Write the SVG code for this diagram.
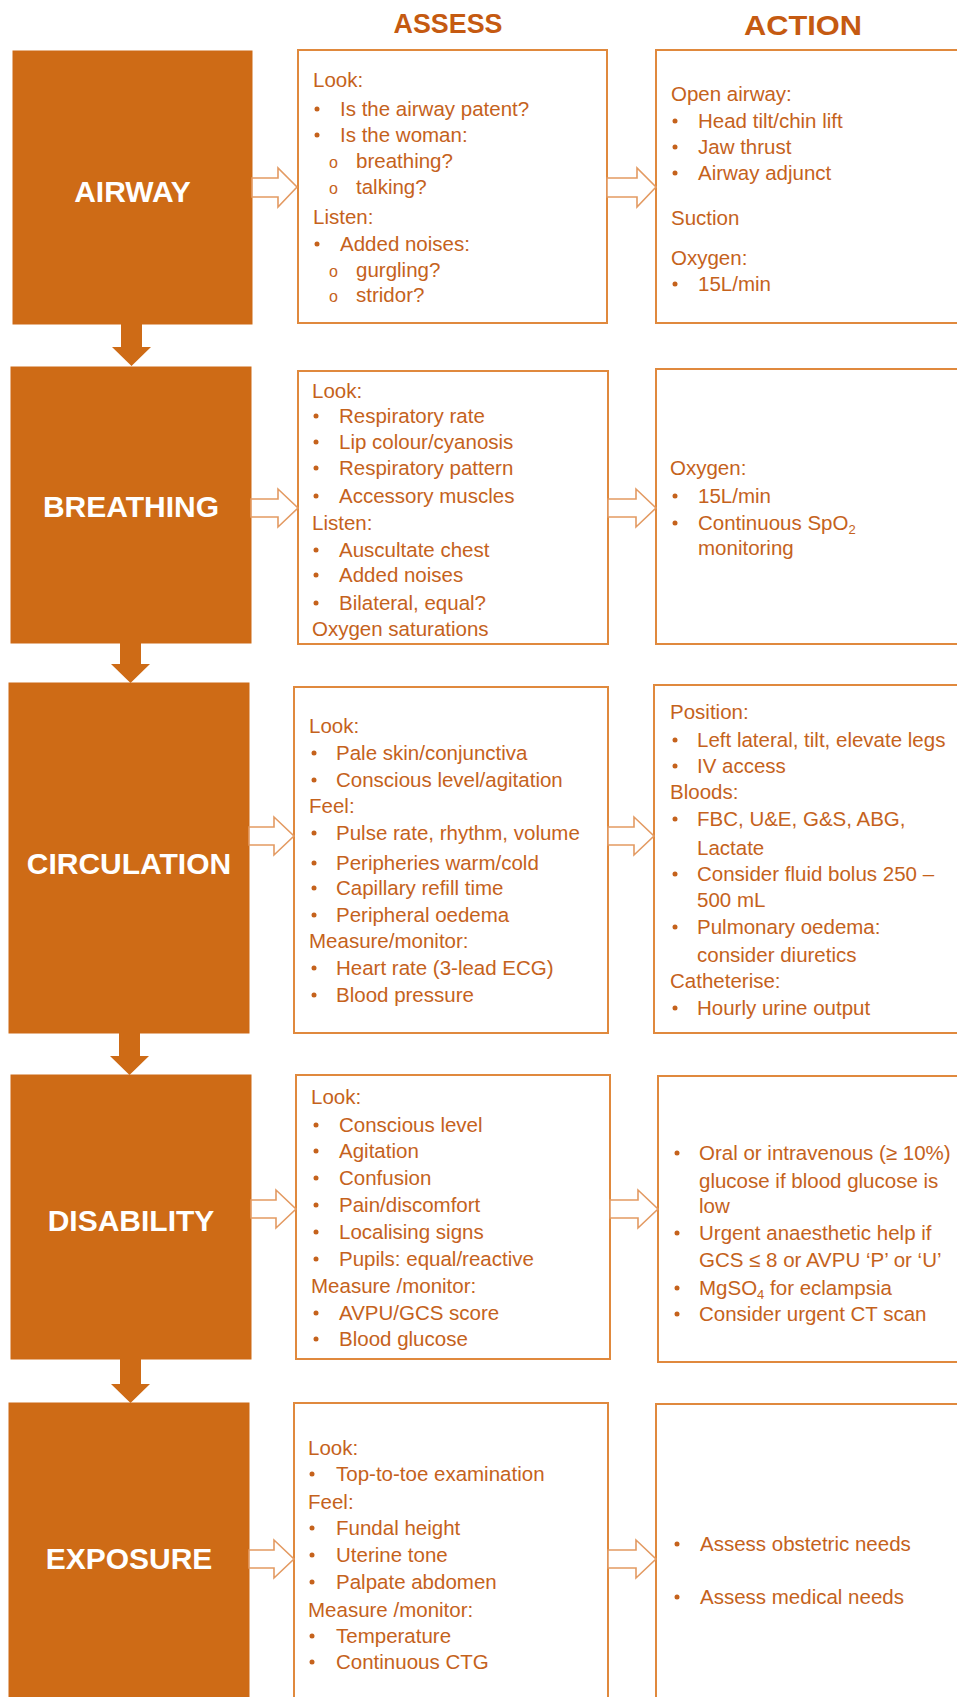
<svg xmlns="http://www.w3.org/2000/svg" width="957" height="1697" viewBox="0 0 957 1697">
<style>
.stage{fill:#CE6B16;stroke:#CE6B16;stroke-width:1}
.box{fill:#ffffff;stroke:#E0893D;stroke-width:2}
.title{font-family:"Liberation Sans",Arial,sans-serif;font-weight:bold;font-size:30px;fill:#ffffff;text-anchor:middle}
.head{font-family:"Liberation Sans",Arial,sans-serif;font-weight:bold;font-size:28px;fill:#C55A11;text-anchor:middle}
.t{font-family:"Liberation Sans",Arial,sans-serif;font-size:20.5px;fill:#C5621C}
.o{font-family:"Liberation Sans",Arial,sans-serif;font-size:16px;fill:#C5621C}
.b{fill:#C5621C}
.harrow{fill:#ffffff;stroke:#E39A62;stroke-width:1.6;stroke-linejoin:miter}
.varrow{fill:#CE6B16}
</style>

<text class="head" x="448" y="33" textLength="109" lengthAdjust="spacingAndGlyphs">ASSESS</text>
<text class="head" x="803" y="35" textLength="118" lengthAdjust="spacingAndGlyphs">ACTION</text>

<!-- Row 1 -->
<g id="airway">
<rect class="stage" x="13" y="51" width="239" height="273"/>
<text class="title" x="132.5" y="202">AIRWAY</text>
</g>
<g id="airway-assess">
<rect class="box" x="298" y="50" width="309" height="273"/>
<text class="t" x="313" y="87">Look:</text>
<circle class="b" cx="317" cy="109" r="2.5"/><text class="t" x="340" y="116">Is the airway patent?</text>
<circle class="b" cx="317" cy="135" r="2.5"/><text class="t" x="340" y="142">Is the woman:</text>
<text class="o" x="329" y="168">o</text><text class="t" x="356" y="168">breathing?</text>
<text class="o" x="329" y="194">o</text><text class="t" x="356" y="194">talking?</text>
<text class="t" x="313" y="224">Listen:</text>
<circle class="b" cx="317" cy="244" r="2.5"/><text class="t" x="340" y="251">Added noises:</text>
<text class="o" x="329" y="277">o</text><text class="t" x="356" y="277">gurgling?</text>
<text class="o" x="329" y="302">o</text><text class="t" x="356" y="302">stridor?</text>
</g>
<g id="airway-action">
<rect class="box" x="656" y="50" width="320" height="273"/>
<text class="t" x="671" y="101">Open airway:</text>
<circle class="b" cx="675" cy="121" r="2.5"/><text class="t" x="698" y="128">Head tilt/chin lift</text>
<circle class="b" cx="675" cy="147" r="2.5"/><text class="t" x="698" y="154">Jaw thrust</text>
<circle class="b" cx="675" cy="173" r="2.5"/><text class="t" x="698" y="180">Airway adjunct</text>
<text class="t" x="671" y="225">Suction</text>
<text class="t" x="671" y="265">Oxygen:</text>
<circle class="b" cx="675" cy="284" r="2.5"/><text class="t" x="698" y="291">15L/min</text>
</g>

<!-- Row 2 -->
<g id="breathing">
<rect class="stage" x="11" y="367" width="240" height="276"/>
<text class="title" x="131" y="517">BREATHING</text>
</g>
<g id="breathing-assess">
<rect class="box" x="298" y="371" width="310" height="273"/>
<text class="t" x="312" y="398">Look:</text>
<circle class="b" cx="316" cy="416" r="2.5"/><text class="t" x="339" y="423">Respiratory rate</text>
<circle class="b" cx="316" cy="442" r="2.5"/><text class="t" x="339" y="449">Lip colour/cyanosis</text>
<circle class="b" cx="316" cy="468" r="2.5"/><text class="t" x="339" y="475">Respiratory pattern</text>
<circle class="b" cx="316" cy="496" r="2.5"/><text class="t" x="339" y="503">Accessory muscles</text>
<text class="t" x="312" y="530">Listen:</text>
<circle class="b" cx="316" cy="550" r="2.5"/><text class="t" x="339" y="557">Auscultate chest</text>
<circle class="b" cx="316" cy="575" r="2.5"/><text class="t" x="339" y="582">Added noises</text>
<circle class="b" cx="316" cy="603" r="2.5"/><text class="t" x="339" y="610">Bilateral, equal?</text>
<text class="t" x="312" y="636">Oxygen saturations</text>
</g>
<g id="breathing-action">
<rect class="box" x="656" y="369" width="320" height="275"/>
<text class="t" x="670" y="475">Oxygen:</text>
<circle class="b" cx="675" cy="496" r="2.5"/><text class="t" x="698" y="503">15L/min</text>
<circle class="b" cx="675" cy="523" r="2.5"/><text class="t" x="698" y="530">Continuous SpO<tspan font-size="13" dy="4">2</tspan></text>
<text class="t" x="698" y="555">monitoring</text>
</g>

<!-- Row 3 -->
<g id="circulation">
<rect class="stage" x="9" y="683" width="240" height="350"/>
<text class="title" x="129" y="874">CIRCULATION</text>
</g>
<g id="circulation-assess">
<rect class="box" x="294" y="687" width="314" height="346"/>
<text class="t" x="309" y="733">Look:</text>
<circle class="b" cx="314" cy="753" r="2.5"/><text class="t" x="336" y="760">Pale skin/conjunctiva</text>
<circle class="b" cx="314" cy="780" r="2.5"/><text class="t" x="336" y="787">Conscious level/agitation</text>
<text class="t" x="309" y="813">Feel:</text>
<circle class="b" cx="314" cy="833" r="2.5"/><text class="t" x="336" y="840">Pulse rate, rhythm, volume</text>
<circle class="b" cx="314" cy="863" r="2.5"/><text class="t" x="336" y="870">Peripheries warm/cold</text>
<circle class="b" cx="314" cy="888" r="2.5"/><text class="t" x="336" y="895">Capillary refill time</text>
<circle class="b" cx="314" cy="915" r="2.5"/><text class="t" x="336" y="922">Peripheral oedema</text>
<text class="t" x="309" y="948">Measure/monitor:</text>
<circle class="b" cx="314" cy="968" r="2.5"/><text class="t" x="336" y="975">Heart rate (3-lead ECG)</text>
<circle class="b" cx="314" cy="995" r="2.5"/><text class="t" x="336" y="1002">Blood pressure</text>
</g>
<g id="circulation-action">
<rect class="box" x="654" y="685" width="320" height="348"/>
<text class="t" x="670" y="719">Position:</text>
<circle class="b" cx="675" cy="740" r="2.5"/><text class="t" x="697" y="747">Left lateral, tilt, elevate legs</text>
<circle class="b" cx="675" cy="766" r="2.5"/><text class="t" x="697" y="773">IV access</text>
<text class="t" x="670" y="799">Bloods:</text>
<circle class="b" cx="675" cy="819" r="2.5"/><text class="t" x="697" y="826">FBC, U&amp;E, G&amp;S, ABG,</text>
<text class="t" x="697" y="855">Lactate</text>
<circle class="b" cx="675" cy="874" r="2.5"/><text class="t" x="697" y="881">Consider fluid bolus 250 –</text>
<text class="t" x="697" y="907">500 mL</text>
<circle class="b" cx="675" cy="927" r="2.5"/><text class="t" x="697" y="934">Pulmonary oedema:</text>
<text class="t" x="697" y="962">consider diuretics</text>
<text class="t" x="670" y="988">Catheterise:</text>
<circle class="b" cx="675" cy="1008" r="2.5"/><text class="t" x="697" y="1015">Hourly urine output</text>
</g>

<!-- Row 4 -->
<g id="disability">
<rect class="stage" x="11" y="1075" width="240" height="284"/>
<text class="title" x="131" y="1231">DISABILITY</text>
</g>
<g id="disability-assess">
<rect class="box" x="296" y="1075" width="314" height="284"/>
<text class="t" x="311" y="1104">Look:</text>
<circle class="b" cx="316" cy="1125" r="2.5"/><text class="t" x="339" y="1132">Conscious level</text>
<circle class="b" cx="316" cy="1151" r="2.5"/><text class="t" x="339" y="1158">Agitation</text>
<circle class="b" cx="316" cy="1178" r="2.5"/><text class="t" x="339" y="1185">Confusion</text>
<circle class="b" cx="316" cy="1205" r="2.5"/><text class="t" x="339" y="1212">Pain/discomfort</text>
<circle class="b" cx="316" cy="1232" r="2.5"/><text class="t" x="339" y="1239">Localising signs</text>
<circle class="b" cx="316" cy="1259" r="2.5"/><text class="t" x="339" y="1266">Pupils: equal/reactive</text>
<text class="t" x="311" y="1293">Measure /monitor:</text>
<circle class="b" cx="316" cy="1313" r="2.5"/><text class="t" x="339" y="1320">AVPU/GCS score</text>
<circle class="b" cx="316" cy="1339" r="2.5"/><text class="t" x="339" y="1346">Blood glucose</text>
</g>
<g id="disability-action">
<rect class="box" x="658" y="1076" width="320" height="286"/>
<circle class="b" cx="677" cy="1153" r="2.5"/><text class="t" x="699" y="1160">Oral or intravenous (≥ 10%)</text>
<text class="t" x="699" y="1188">glucose if blood glucose is</text>
<text class="t" x="699" y="1213">low</text>
<circle class="b" cx="677" cy="1233" r="2.5"/><text class="t" x="699" y="1240">Urgent anaesthetic help if</text>
<text class="t" x="699" y="1267">GCS ≤ 8 or AVPU ‘P’ or ‘U’</text>
<circle class="b" cx="677" cy="1288" r="2.5"/><text class="t" x="699" y="1295">MgSO<tspan font-size="13" dy="4">4</tspan><tspan dy="-4"> for eclampsia</tspan></text>
<circle class="b" cx="677" cy="1314" r="2.5"/><text class="t" x="699" y="1321">Consider urgent CT scan</text>
</g>

<!-- Row 5 -->
<g id="exposure">
<rect class="stage" x="9" y="1403" width="240" height="300"/>
<text class="title" x="129" y="1569">EXPOSURE</text>
</g>
<g id="exposure-assess">
<rect class="box" x="294" y="1403" width="314" height="300"/>
<text class="t" x="308" y="1455">Look:</text>
<circle class="b" cx="312" cy="1474" r="2.5"/><text class="t" x="336" y="1481">Top-to-toe examination</text>
<text class="t" x="308" y="1509">Feel:</text>
<circle class="b" cx="312" cy="1528" r="2.5"/><text class="t" x="336" y="1535">Fundal height</text>
<circle class="b" cx="312" cy="1555" r="2.5"/><text class="t" x="336" y="1562">Uterine tone</text>
<circle class="b" cx="312" cy="1582" r="2.5"/><text class="t" x="336" y="1589">Palpate abdomen</text>
<text class="t" x="308" y="1617">Measure /monitor:</text>
<circle class="b" cx="312" cy="1636" r="2.5"/><text class="t" x="336" y="1643">Temperature</text>
<circle class="b" cx="312" cy="1662" r="2.5"/><text class="t" x="336" y="1669">Continuous CTG</text>
</g>
<g id="exposure-action">
<rect class="box" x="656" y="1404" width="320" height="300"/>
<circle class="b" cx="677" cy="1544" r="2.5"/><text class="t" x="700" y="1551">Assess obstetric needs</text>
<circle class="b" cx="677" cy="1597" r="2.5"/><text class="t" x="700" y="1604">Assess medical needs</text>
</g>

<!-- Connectors -->
<g id="connectors">
<polygon class="harrow" points="252,178 278,178 278,168 297,187 278,207 278,197 252,197"/>
<polygon class="harrow" points="607,178 637,178 637,168 656,187 637,207 637,197 607,197"/>
<polygon class="harrow" points="251,499 278,499 278,489 298,508 278,527 278,517 251,517"/>
<polygon class="harrow" points="608,499 636,499 636,489 656,508 636,527 636,517 608,517"/>
<polygon class="harrow" points="249,827 274,827 274,817 294,836 274,855 274,845 249,845"/>
<polygon class="harrow" points="608,827 634,827 634,817 654,836 634,855 634,845 608,845"/>
<polygon class="harrow" points="251,1200 276,1200 276,1190 296,1209 276,1228 276,1218 251,1218"/>
<polygon class="harrow" points="610,1200 638,1200 638,1190 658,1209 638,1228 638,1218 610,1218"/>
<polygon class="harrow" points="249,1550 274,1550 274,1540 294,1559 274,1578 274,1568 249,1568"/>
<polygon class="harrow" points="608,1550 636,1550 636,1540 656,1559 636,1578 636,1568 608,1568"/>
<polygon class="varrow" points="121,323 142,323 142,347 151,347 131.5,366 112,347 121,347"/>
<polygon class="varrow" points="120,642 141,642 141,664 150,664 130.5,683 111,664 120,664"/>
<polygon class="varrow" points="119,1032 140,1032 140,1056 149,1056 129.5,1075 110,1056 119,1056"/>
<polygon class="varrow" points="120,1358 141,1358 141,1384 150,1384 130.5,1403 111,1384 120,1384"/>
</g>
</svg>
